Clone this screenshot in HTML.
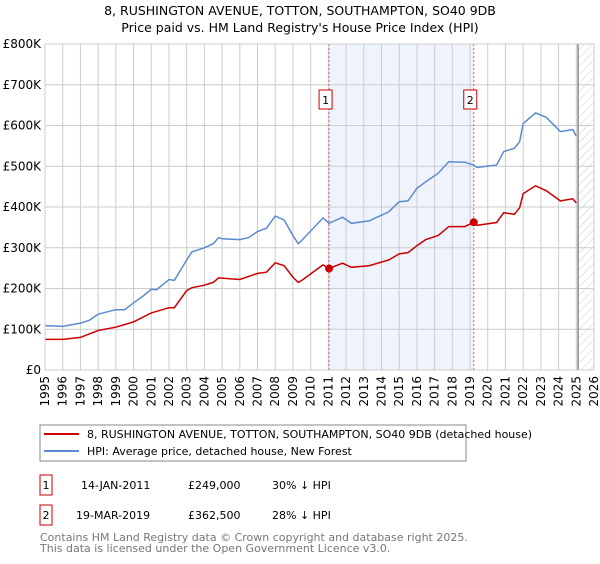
<!DOCTYPE html>
<html><head><meta charset="utf-8"><style>
body{margin:0;background:#fff;font-family:"DejaVu Sans","Liberation Sans",sans-serif;}
svg text{font-family:"DejaVu Sans","Liberation Sans",sans-serif;}
</style></head><body>
<svg id="c" width="600" height="560" xmlns="http://www.w3.org/2000/svg">
<defs><pattern id="hatch" width="6" height="6" patternUnits="userSpaceOnUse" patternTransform="rotate(45)"><line x1="0" y1="0" x2="0" y2="6" stroke="#ccc" stroke-width="1"/></pattern></defs>
<text x="300" y="15" text-anchor="middle" font-size="12.5">8, RUSHINGTON AVENUE, TOTTON, SOUTHAMPTON, SO40 9DB</text>
<text x="300" y="32" text-anchor="middle" font-size="12.5">Price paid vs. HM Land Registry's House Price Index (HPI)</text>
<g id="plot"></g>
<rect x="40" y="425" width="426" height="36" fill="none" stroke="#888"/>
<line x1="44" y1="434" x2="79" y2="434" stroke="#cc0000" stroke-width="2"/>
<text x="87" y="438" font-size="11">8, RUSHINGTON AVENUE, TOTTON, SOUTHAMPTON, SO40 9DB (detached house)</text>
<line x1="44" y1="451" x2="79" y2="451" stroke="#5b8bd0" stroke-width="2"/>
<text x="87" y="455" font-size="11">HPI: Average price, detached house, New Forest</text>
<rect x="40" y="475" width="12" height="20" fill="none" stroke="#cc0000"/>
<text x="46" y="489" text-anchor="middle" font-size="11">1</text>
<text x="81" y="489" font-size="11">14-JAN-2011</text>
<text x="188" y="489" font-size="11">£249,000</text>
<text x="272" y="489" font-size="11">30% ↓ HPI</text>
<rect x="40" y="505" width="12" height="20" fill="none" stroke="#cc0000"/>
<text x="46" y="519" text-anchor="middle" font-size="11">2</text>
<text x="76" y="519" font-size="11">19-MAR-2019</text>
<text x="188" y="519" font-size="11">£362,500</text>
<text x="272" y="519" font-size="11">28% ↓ HPI</text>
<text x="40" y="541" font-size="11" fill="#777">Contains HM Land Registry data © Crown copyright and database right 2025.</text>
<text x="40" y="552" font-size="11" fill="#777">This data is licensed under the Open Government Licence v3.0.</text>
</svg>
<script>
const hpiYears=[1995,1996,1997,1997.5,1998,1999,1999.5,2000,2000.5,2001,2001.3,2002,2002.3,2003,2003.3,2004,2004.5,2004.8,2005,2006,2006.5,2007,2007.5,2008,2008.5,2009,2009.3,2009.5,2010.7,2011.04,2011.8,2012.3,2013.3,2014.4,2015,2015.5,2016,2016.5,2017.2,2017.8,2018.7,2019.2,2019.4,2020.5,2020.9,2021.5,2021.8,2022.0,2022.7,2023.3,2024.1,2024.8,2025.0];
const hpiValues=[109,107,115,122,137,148,148,165,180,198,197,222,220,270,290,300,310,325,322,320,325,340,348,378,368,330,310,318,373,360,375,360,366,388,413,415,446,462,483,511,510,503,497,503,536,544,560,605,631,620,585,590,574];
const ppYears=[1995,1996,1997,1998,1999,2000,2001,2002,2002.3,2003,2003.3,2004,2004.5,2004.8,2006,2007,2007.5,2008,2008.5,2009,2009.3,2009.5,2010.7,2011.04,2011.8,2012.3,2013.3,2014.4,2015,2015.5,2016,2016.5,2017.2,2017.8,2018.7,2019.21,2019.4,2020.5,2020.9,2021.5,2021.8,2022.0,2022.7,2023.3,2024.1,2024.8,2025.0];
const ppValues=[75,75,80,97,105,118,140,153,153,195,202,208,215,226,222,237,240,263,256,228,215,220,258,249,262,252,256,270,285,288,305,320,330,352,352,362.5,355,362,386,382,398,433,452,440,415,420,410];
const saleYears=[2011.04,2019.21];
const saleValues=[249,362.5];
const saleLabels=["1","2"];
const yTicks=[0,100,200,300,400,500,600,700,800];
const xTicks=[1995,1996,1997,1998,1999,2000,2001,2002,2003,2004,2005,2006,2007,2008,2009,2010,2011,2012,2013,2014,2015,2016,2017,2018,2019,2020,2021,2022,2023,2024,2025,2026];
const X0=45,X1=594,Y0=370,Y1=44;
const sx=y=>X0+(y-1995)/(2026-1995)*(X1-X0);
const sy=v=>Y0-v/800*(Y0-Y1);
const NS="http://www.w3.org/2000/svg";
const g=document.getElementById('plot');
function mk(t,a){const e=document.createElementNS(NS,t);for(const k in a)e.setAttribute(k,a[k]);g.appendChild(e);return e;}
let e;
e=mk('rect',{x:sx(saleYears[0]),y:Y1,width:sx(saleYears[1])-sx(saleYears[0]),height:Y0-Y1,fill:'#eef3fc'});


e=mk('rect',{x:sx(2025.1),y:Y1,width:X1-sx(2025.1),height:Y0-Y1,fill:'url(#hatch)'});


yTicks.forEach(v=>{
 e=mk('line',{x1:X0,x2:X1,y1:sy(v),y2:sy(v),stroke:'#ccc'});
 
 
 e=mk('text',{x:X0-4,y:sy(v)+4,'text-anchor':'end','font-size':'12'});e.textContent=v===0?'£0':'£'+v+'K';
 
 
});
xTicks.forEach(y=>{
 e=mk('line',{x1:sx(y),x2:sx(y),y1:Y1,y2:Y0,stroke:'#ccc'});
 
 
 e=mk('text',{x:0,y:0,'text-anchor':'end','font-size':'12',transform:`translate(${sx(y)+4},${Y0+6}) rotate(-90)`});e.textContent=y;
 
 
});
e=mk('line',{x1:sx(2025.1),x2:sx(2025.1),y1:Y1,y2:Y0,stroke:'#888','stroke-width':1.5});


saleYears.forEach((y,i)=>{
 e=mk('line',{x1:sx(y),x2:sx(y),y1:Y1,y2:Y0,stroke:'#e06060','stroke-dasharray':'2,2'});
 
 
});
const path=(xs,vs)=>xs.map((y,i)=>(i?'L':'M')+sx(y).toFixed(1)+','+sy(vs[i]).toFixed(1)).join('');
e=mk('path',{d:path(hpiYears,hpiValues),fill:'none',stroke:'#5b8bd0','stroke-width':1.5});


e=mk('path',{d:path(ppYears,ppValues),fill:'none',stroke:'#cc0000','stroke-width':1.5});


saleYears.forEach((y,i)=>{
 e=mk('circle',{cx:sx(y),cy:sy(saleValues[i]),r:4,fill:'#cc0000'});
 
 
 e=mk('rect',{x:sx(y)-10,y:90,width:13,height:19,fill:'#fff',stroke:'#cc0000'});
 
 
 e=mk('text',{x:sx(y)-3.5,y:104,'text-anchor':'middle','font-size':'11'});e.textContent=saleLabels[i];
 
 
});
e=mk('rect',{x:X0,y:Y1,width:X1-X0,height:Y0-Y1,fill:'none',stroke:'#ccc'});


</script>
</body></html>
